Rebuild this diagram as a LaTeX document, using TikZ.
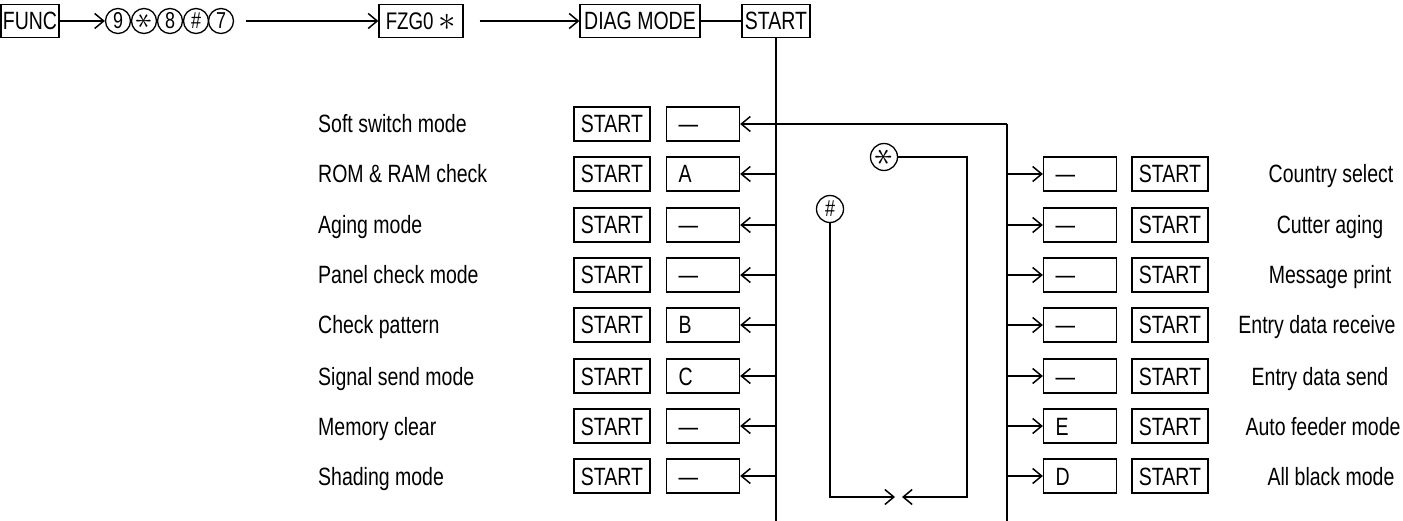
\documentclass[tikz,border=0pt]{standalone}
\usepackage{fontspec}
\setmainfont[FakeStretch=0.78]{Liberation Sans}
\usetikzlibrary{arrows.meta}
\newcommand{\stsym}[1]{\rotatebox{90}{\scalebox{#1}{$\ast$}}}
\begin{document}
\begin{tikzpicture}[x=1pt,y=-1pt,
  every node/.style={font=\fontsize{25}{27}\selectfont},
  ln/.style={line width=1.6pt},
  arr/.style={ln,-{Straight Barb[length=9pt,width=15pt,line width=1.5pt]}},
  sbox/.style={draw,line width=1.3pt,minimum width=76pt,minimum height=34pt,inner sep=2pt,text height=18pt,text depth=0pt},
  vbox/.style={draw,line width=1.3pt,text width=49pt,inner xsep=12pt,minimum height=34pt,align=left,text height=18pt,text depth=0pt},
  key/.style={draw,circle,line width=1.3pt,minimum size=25pt,inner sep=0pt,font=\fontsize{23}{24}\selectfont},
  lab/.style={anchor=west,inner sep=0pt,text height=18pt,text depth=0pt},
  rlab/.style={inner sep=0pt,text height=18pt,text depth=0pt}]
\useasboundingbox (0,0) rectangle (1403,521);

% top row
\node[sbox,minimum width=52pt,minimum height=33pt] (func) at (30,21) {FUNC};
\node[key] (k9) at (118,21) {9};
\node[key] (kst) at (144,21) {\stsym{1.35}};
\node[key] (k8) at (170,21) {8};
\node[key] (kh) at (196,21) {\#};
\node[key] (k7) at (221,21) {7};
\node[sbox,minimum width=84pt,minimum height=33pt,inner xsep=6pt,text height=17pt,font=\fontsize{24}{26}\selectfont] (fzg) at (421,21) {FZG0 \raisebox{-1pt}{\scalebox{1.4}{$\ast$}}};
\node[sbox,minimum width=120pt,minimum height=33pt] (diag) at (640,21) {DIAG MODE};
\node[sbox,minimum width=68pt,minimum height=33pt] (st0) at (776,21) {START};

\draw[arr] (func) -- (k9);
\draw[arr,shorten <=12pt] (k7) -- (fzg);
\draw[arr,shorten <=16pt] (fzg) -- (diag);
\draw[ln] (diag) -- (st0);

\coordinate (bot) at (776,521);
\draw[ln] (st0.south) -- (bot);

% left rows
\foreach \i/\y/\lab/\v in {1/124/Soft switch mode/—,2/174/ROM \& RAM check/A,3/225/Aging mode/—,4/275/Panel check mode/—,5/325/Check pattern/B,6/376/Signal send mode/C,7/426/Memory clear/—,8/476/Shading mode/—}{
  \node[lab] (L\i) at (318,\y) {\lab};
  \node[sbox] (S\i) at (612,\y) {START};
  \node[vbox] (V\i) at (703,\y) {\v};
}
\foreach \i in {2,...,8}{
  \draw[arr] (V\i.east -| st0.south) -- (V\i.east);
}
\coordinate (rj) at (1007,124);
\coordinate (rbot) at (1007,521);
\draw[arr] (rj) -- (V1.east);
\draw[ln] (rj) -- (rbot);

% right rows
\foreach \i/\y/\v/\lab/\lx in {1/174/—/Country select/1331,2/225/—/Cutter aging/1330,3/275/—/Message print/1330,4/325/—/Entry data receive/1317,5/376/—/Entry data send/1320,6/426/E/Auto feeder mode/1323,7/476/D/All black mode/1331}{
  \node[vbox] (R\i) at (1080,\y) {\v};
  \node[sbox] (RS\i) at (1170,\y) {START};
  \node[rlab] (RL\i) at (\lx,\y) {\lab};
  \draw[arr] (R\i.west -| rj) -- (R\i.west);
}

% loops
\node[key,minimum size=27pt] (mst) at (884,157) {\stsym{1.5}};
\node[key,minimum size=27pt] (mh) at (830,209) {\#};
\coordinate (sc1) at (967,157);
\coordinate (sc2) at (967,497);
\coordinate (hc) at (830,497);
\coordinate (meet) at (898.5,497);
\draw[arr,shorten >=3.5pt] (mst.east) -- (sc1) -- (sc2) -- (meet);
\draw[arr,shorten >=3.5pt] (mh.south) -- (hc) -- (meet);
\end{tikzpicture}
\end{document}
